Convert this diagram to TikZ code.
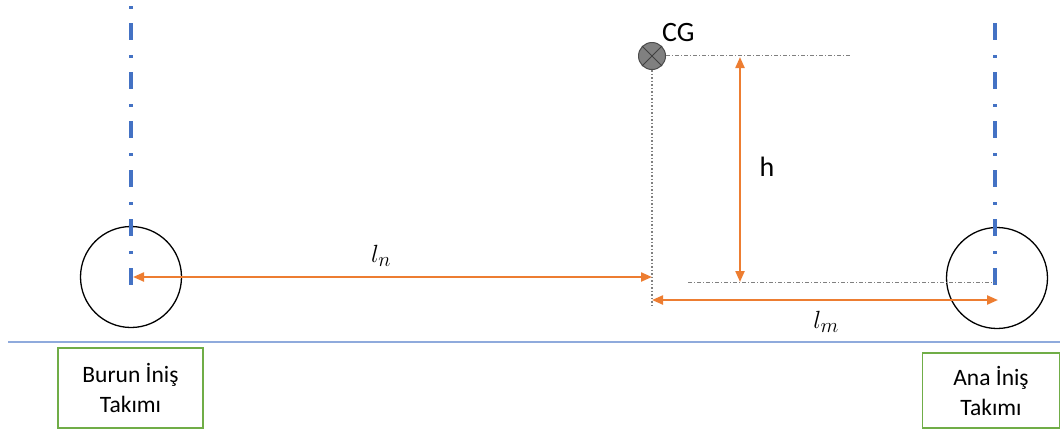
\documentclass[tikz,border=0pt]{standalone}
\usepackage{fontspec}
\setmainfont{Carlito}
\usetikzlibrary{arrows.meta}
\definecolor{orng}{HTML}{ED7D31}
\definecolor{blu}{HTML}{4472C4}
\definecolor{lblu}{HTML}{8FAADC}
\definecolor{grn}{HTML}{70AD47}
\definecolor{gry}{HTML}{808080}
\tikzset{
  axisline/.style={blu, line width=3.5pt, dash pattern=on 17pt off 15pt on 3pt off 14pt},
  wheel/.style={circle, draw=black, line width=1.3pt, minimum size=101pt, inner sep=0pt},
  dimarrow/.style={orng, line width=2.2pt, {Triangle[length=11pt,width=9pt]}-{Triangle[length=11pt,width=9pt]}},
  refline/.style={gry, line width=1pt, dash pattern=on 4pt off 2pt on 1pt off 2pt},
  dotline/.style={gry, line width=1.3pt, dash pattern=on 1.5pt off 2pt},
  tagbox/.style={inner sep=0pt, draw=grn, line width=1.3pt, align=center, font=\fontsize{23.5}{30}\selectfont},
  txt/.style={inner sep=0pt, font=\fontsize{28}{30}\selectfont},
  mathtxt/.style={inner sep=0pt, font=\fontsize{30}{34}\selectfont},
}
\begin{document}
\begin{tikzpicture}[x=1pt,y=-1pt]
\useasboundingbox (0,0) rectangle (1060,432);
% ground line
\coordinate (g1) at (8,342);
\coordinate (g2) at (1060,342);
\draw[lblu, line width=1.2pt] (g1) -- (g2);
% wheels
\node[wheel] (nw) at (131,277) {};
\node[wheel] (mw) at (997,278) {};
% axis lines
\coordinate (na1) at (131,-26);
\coordinate (na2) at (131,285);
\coordinate (ma1) at (995,23);
\coordinate (ma2) at (995,285);
\draw[axisline] (na1) -- (na2);
\draw[axisline] (ma1) -- (ma2);
% CG
\node[circle, draw=black!70, line width=1pt, fill=gry, minimum size=27pt, inner sep=0pt] (cg) at (652,56) {};
\draw[black!75, line width=1pt] (cg.north east) -- (cg.south west) (cg.north west) -- (cg.south east);
\node[txt, anchor=base west] (cgl) at (662,41) {CG};
% reference lines
\coordinate (t1) at (666,55);
\coordinate (t2) at (850,55);
\draw[refline] (t1) -- (t2);
\coordinate (b1) at (688,282);
\coordinate (b2) at (995,282);
\draw[refline] (b1) -- (b2);
\coordinate (v2) at (652,308);
\draw[dotline] (cg.south) -- (v2);
% dimension arrows
\coordinate (h1) at (740,57);
\coordinate (h2) at (740,282);
\draw[dimarrow] (h1) -- (h2);
\node[txt, anchor=base] (hl) at (767,176) {h};
\coordinate (ln1) at (133,277);
\coordinate (ln2) at (652,277);
\draw[dimarrow] (ln1) -- (ln2);
\node[mathtxt] (lnl) at (381,256) {$l_n$};
\coordinate (lm1) at (652,300);
\coordinate (lm2) at (998,300);
\draw[dimarrow] (lm1) -- (lm2);
\node[mathtxt] (lml) at (826,322) {$l_m$};
% label boxes
\node[tagbox, minimum width=145pt, minimum height=80pt] (bl) at (130.5,388) {Burun İniş\\Takımı};
\node[tagbox, minimum width=137pt, minimum height=75pt] (al) at (991,390.5) {Ana İniş\\Takımı};
\end{tikzpicture}
\end{document}
